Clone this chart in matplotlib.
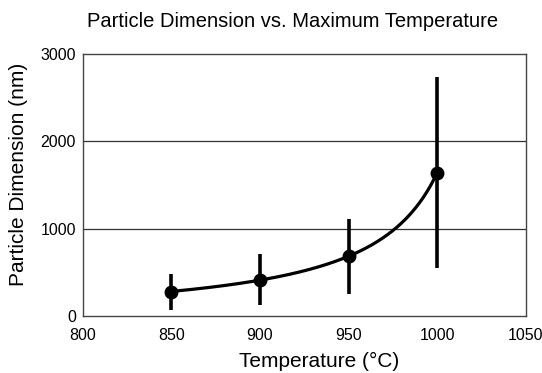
import numpy as np
import matplotlib
matplotlib.use("Agg")
import matplotlib.pyplot as plt

plt.rcParams['font.family'] = ['Liberation Sans', 'DejaVu Sans']

# Data
temperature = [850, 900, 950, 1000]
dimension = [278, 415, 682, 1640]
dimension_err = [208, 290, 430, 1094]
x_ticks = [800, 850, 900, 950, 1000, 1050]
y_ticks = [0, 1000, 2000, 3000]

fig = plt.figure(figsize=(5.42, 3.73), dpi=100)
ax = fig.add_axes([0.153, 0.153, 0.817, 0.702])

# Hyperbolic trend curve y = a + b / (d - T), fitted by least squares
t = np.array(temperature, float)
yv = np.array(dimension, float)
best = None
for d in np.linspace(1005, 1200, 1000):
    A = np.column_stack([np.ones_like(t), 1.0 / (d - t)])
    sol, *_ = np.linalg.lstsq(A, yv, rcond=None)
    err = np.sum((A @ sol - yv) ** 2)
    if best is None or err < best[0]:
        best = (err, d, sol)
_, d, (a, b) = best
xs = np.linspace(t[0], t[-1], 300)
ax.plot(xs, a + b / (d - xs), color='black', lw=2.3, zorder=3)

ax.errorbar(temperature, dimension, yerr=dimension_err, fmt='o', color='black',
            ms=9, elinewidth=2.6, capsize=0, zorder=4)

ax.set_xlim(800, 1050)
ax.set_ylim(0, 3000)
ax.set_xticks(x_ticks)
ax.set_yticks(y_ticks)
ax.tick_params(length=0, labelsize=11.5, pad=5)
ax.tick_params(axis='x', pad=9)
for y in y_ticks[1:3]:
    ax.axhline(y, color='#333333', lw=0.9, zorder=1)
for s in ax.spines.values():
    s.set_color('#444444')
    s.set_linewidth(1.0)

ax.set_xlabel('Temperature (°C)', fontsize=15)
ax.xaxis.set_label_coords(0.533, -0.137)
ax.set_ylabel('Particle Dimension (nm)', fontsize=15)
ax.yaxis.set_label_coords(-0.123, 0.542)
fig.text(0.54, 0.942, 'Particle Dimension vs. Maximum Temperature',
         ha='center', va='center', fontsize=14.5)

fig.savefig('out.png', dpi=100)
